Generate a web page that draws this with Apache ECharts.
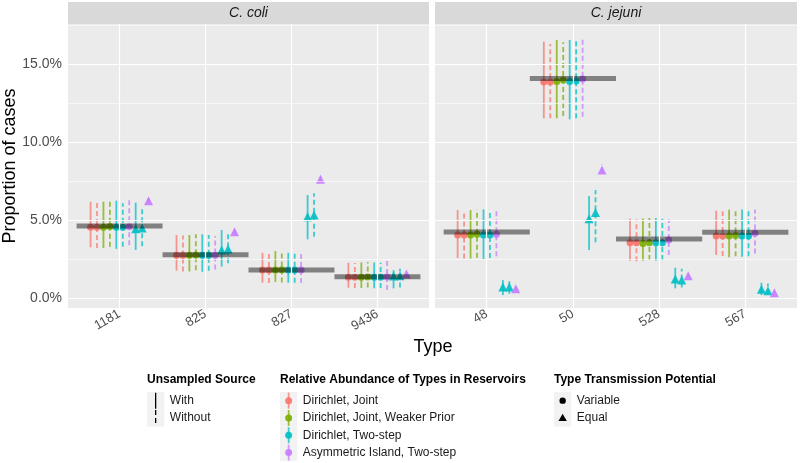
<!DOCTYPE html>
<html><head><meta charset="utf-8">
<script src="https://cdn.jsdelivr.net/npm/echarts@6/dist/echarts.min.js"></script>
<style>html,body{margin:0;padding:0;background:#fff}#c{width:800px;height:463px}</style>
</head><body><div id="c"></div>
<script>
// ---------- DATA (percent) ----------
const cColiTypes = ['1181', '825', '827', '9436'];
const cJejuniTypes = ['48', '50', '528', '567'];
const facetNames = ['C. coli', 'C. jejuni'];
const yTicks = [0, 5, 10, 15];
const yMinorTicks = [2.5, 7.5, 12.5, 17.5];
// order of values: 1181, 825, 827, 9436, 48, 50, 528, 567
const observed = [4.63, 2.80, 1.81, 1.39, 4.25, 14.08, 3.80, 4.23];

// Variable transmission potential
const jointWithEst = [4.55, 2.76, 1.81, 1.35, 4.06, 13.87, 3.56, 3.99];
const jointWithLo  = [3.27, 1.77, 1.00, 0.68, 2.58, 11.54, 2.41, 2.78];
const jointWithHi  = [6.19, 4.06, 2.92, 2.28, 5.66, 16.45, 5.10, 5.62];
const jointWithoutEst = [4.55, 2.76, 1.81, 1.35, 4.06, 13.87, 3.56, 3.99];
const jointWithoutLo  = [3.22, 1.72, 0.98, 0.66, 2.55, 11.54, 2.38, 2.72];
const jointWithoutHi  = [6.19, 4.02, 2.88, 2.26, 5.62, 16.30, 5.06, 5.58];
const weakWithEst = [4.55, 2.76, 1.81, 1.35, 4.06, 13.89, 3.52, 3.99];
const weakWithLo  = [3.22, 1.72, 1.04, 0.66, 2.55, 11.54, 2.41, 2.63];
const weakWithHi  = [6.19, 4.06, 3.03, 2.30, 5.66, 16.56, 5.12, 5.68];
const weakWithoutEst = [4.60, 2.78, 1.83, 1.37, 4.10, 13.99, 3.56, 4.02];
const weakWithoutLo  = [3.30, 1.80, 1.02, 0.70, 2.60, 11.69, 2.45, 2.70];
const weakWithoutHi  = [6.30, 4.10, 3.00, 2.32, 5.70, 16.41, 5.14, 5.72];
const twoStepWithEst = [4.55, 2.76, 1.81, 1.35, 4.06, 13.89, 3.56, 3.99];
const twoStepWithLo  = [3.17, 1.70, 1.00, 0.64, 2.52, 11.47, 2.41, 2.66];
const twoStepWithHi  = [6.26, 4.10, 2.92, 2.30, 5.70, 16.56, 5.14, 5.70];
const twoStepWithoutEst = [4.55, 2.76, 1.81, 1.35, 4.06, 13.93, 3.56, 3.99];
const twoStepWithoutLo  = [3.30, 1.77, 1.00, 0.66, 2.58, 11.54, 2.45, 2.70];
const twoStepWithoutHi  = [6.10, 4.06, 2.90, 2.28, 5.66, 16.56, 5.10, 5.66];
const islandWithoutEst = [4.59, 2.76, 1.81, 1.37, 4.10, 14.06, 3.74, 4.17];
const islandWithoutLo  = [3.40, 1.85, 0.98, 0.53, 2.70, 11.64, 2.78, 2.88];
const islandWithoutHi  = [6.30, 4.00, 2.92, 2.41, 5.75, 16.77, 5.05, 5.70];
// Equal transmission potential
const eqTwoStepWithEst = [4.46, 3.10, 5.23, 1.43, 0.72, 5.10, 1.24, 0.58];
const eqTwoStepWithLo  = [3.10, 2.03, 3.78, 0.64, 0.21, 3.10, 0.64, 0.21];
const eqTwoStepWithHi  = [6.13, 4.38, 6.62, 1.81, 1.17, 6.56, 1.96, 1.00];
const eqTwoStepWithoutEst = [4.50, 3.16, 5.34, 1.45, 0.72, 5.50, 1.17, 0.49];
const eqTwoStepWithoutLo  = [3.33, 2.24, 3.95, 0.70, 0.30, 3.60, 0.70, 0.25];
const eqTwoStepWithoutHi  = [5.90, 4.17, 6.73, 1.90, 1.10, 6.94, 1.90, 0.95];
const eqIslandWithoutEst = [6.26, 4.27, 7.63, 1.56, 0.62, 8.22, 1.45, 0.36];
const eqIslandWithoutLo  = [6.10, 4.15, 7.50, 1.50, 0.55, 8.05, 1.38, 0.30];
const eqIslandWithoutHi  = [6.40, 4.40, 7.80, 1.62, 0.70, 8.60, 1.52, 0.42];

const sourceLabels = ['With', 'Without'];
const modelLabels = ['Dirichlet, Joint', 'Dirichlet, Joint, Weaker Prior', 'Dirichlet, Two-step', 'Asymmetric Island, Two-step'];
const potentialLabels = ['Variable', 'Equal'];
const modelColors = ['#F8766D', '#7CAE00', '#00BFC4', '#C77CFF'];

// ---------- build ----------
const slots = [
  {m:0, dash:false, tri:false, est:jointWithEst, lo:jointWithLo, hi:jointWithHi},
  {m:0, dash:true,  tri:false, est:jointWithoutEst, lo:jointWithoutLo, hi:jointWithoutHi},
  {m:1, dash:false, tri:false, est:weakWithEst, lo:weakWithLo, hi:weakWithHi},
  {m:1, dash:true,  tri:false, est:weakWithoutEst, lo:weakWithoutLo, hi:weakWithoutHi},
  {m:2, dash:false, tri:false, est:twoStepWithEst, lo:twoStepWithLo, hi:twoStepWithHi},
  {m:2, dash:true,  tri:false, est:twoStepWithoutEst, lo:twoStepWithoutLo, hi:twoStepWithoutHi},
  {m:3, dash:true,  tri:false, est:islandWithoutEst, lo:islandWithoutLo, hi:islandWithoutHi},
  {m:2, dash:false, tri:true,  est:eqTwoStepWithEst, lo:eqTwoStepWithLo, hi:eqTwoStepWithHi},
  {m:2, dash:true,  tri:true,  est:eqTwoStepWithoutEst, lo:eqTwoStepWithoutLo, hi:eqTwoStepWithoutHi},
  {m:3, dash:true,  tri:true,  est:eqIslandWithoutEst, lo:eqIslandWithoutLo, hi:eqIslandWithoutHi}
];
const dodge = 0.075;
const typeSets = [cColiTypes, cJejuniTypes];
const YMIN = -0.62, YMAX = 17.58;
const panels = [{left:68, width:361}, {left:435, width:362}];
const TOP = 24, HEIGHT = 284;
const DASH = [5, 3];

const grid = panels.map(p => ({left:p.left, top:TOP, width:p.width, height:HEIGHT, show:true, backgroundColor:'#EBEBEB', borderWidth:0, containLabel:false}));
const xAxis = panels.map((p, g) => ({
  gridIndex:g, type:'value', min:-0.6, max:3.6,
  axisLine:{show:false}, splitLine:{show:false},
  axisTick:{show:true, customValues:[0,1,2,3], length:3, lineStyle:{color:'#333333', width:1}},
  axisLabel:{customValues:[0,1,2,3], formatter:v => typeSets[g][Math.round(v)], rotate:30, color:'#4D4D4D', fontSize:13, margin:5, fontFamily:'Liberation Sans, Arial, sans-serif'}
}));
const yAxis = panels.map((p, g) => ({
  gridIndex:g, type:'value', min:YMIN, max:YMAX,
  axisLine:{show:false}, splitLine:{show:false},
  axisTick:{show:g === 0, customValues:yTicks, length:3, lineStyle:{color:'#333333', width:1}},
  axisLabel:{show:g === 0, customValues:yTicks, formatter:v => v.toFixed(1) + '%', color:'#4D4D4D', fontSize:14, margin:6, fontFamily:'Liberation Sans, Arial, sans-serif'}
}));

const series = [];
for (let g = 0; g < 2; g++) {
  // grid lines
  series.push({
    type:'scatter', xAxisIndex:g, yAxisIndex:g, data:[], z:1, silent:true,
    markLine:{silent:true, symbol:['none','none'], label:{show:false}, animation:false,
      lineStyle:{color:'#FFFFFF', width:1.2, type:'solid'},
      emphasis:{disabled:true},
      data: yMinorTicks.map(v => ({yAxis:v, lineStyle:{width:0.6, color:'#FFFFFF', type:'solid'}}))
        .concat(yTicks.map(v => ({yAxis:v})))
        .concat([0,1,2,3].map(v => ({xAxis:v})))}
  });
  // error bars & points
  slots.forEach((s, k) => {
    const off = (k - 4.5) * dodge;
    const data = [0,1,2,3].map(i => [i + off, s.lo[g*4+i], s.hi[g*4+i], s.est[g*4+i]]);
    const col = modelColors[s.m];
    series.push({
      type:'custom', xAxisIndex:g, yAxisIndex:g, z:2, silent:true,
      data: data,
      encode:{x:0, y:[1,2]},
      renderItem:(params, api) => {
        const a = api.coord([api.value(0), api.value(1)]);
        const b = api.coord([api.value(0), api.value(2)]);
        return {type:'line', shape:{x1:a[0], y1:a[1], x2:b[0], y2:b[1]},
          style:{stroke:col, lineWidth:1.8, lineDash:s.dash ? DASH : null, opacity:0.75}};
      }
    });
    series.push({
      type:'scatter', xAxisIndex:g, yAxisIndex:g, z:3, silent:true,
      symbol: s.tri ? 'triangle' : 'circle', symbolSize: s.tri ? 9 : 7,
      itemStyle:{color:col, opacity:0.9},
      data: data.map(d => [d[0], d[3]])
    });
  });
  // observed bars
  series.push({
    type:'custom', xAxisIndex:g, yAxisIndex:g, z:4, silent:true,
    data: [0,1,2,3].map(i => [i, observed[g*4+i]]),
    encode:{x:0, y:1},
    renderItem:(params, api) => {
      const a = api.coord([api.value(0) - 0.5, api.value(1)]);
      const b = api.coord([api.value(0) + 0.5, api.value(1)]);
      return {type:'line', shape:{x1:a[0], y1:a[1], x2:b[0], y2:b[1]},
        style:{stroke:'#000000', lineWidth:5, opacity:0.45}};
    }
  });
}

// ---------- graphic: strips, titles, legends ----------
const FF = 'Liberation Sans, Arial, sans-serif';
const graphic = [];
panels.forEach((p, g) => {
  graphic.push({type:'rect', shape:{x:p.left, y:2, width:p.width, height:22}, style:{fill:'#D9D9D9'}, silent:true});
  graphic.push({type:'text', x:p.left + p.width/2, y:13, style:{text:facetNames[g], fontSize:14, fontStyle:'italic', fontFamily:FF, fill:'#1A1A1A', textAlign:'center', textVerticalAlign:'middle'}, silent:true});
});
graphic.push({type:'text', x:10, y:166, rotation:Math.PI/2, style:{text:'Proportion of cases', fontSize:18, fontFamily:FF, fill:'#000', textAlign:'center', textVerticalAlign:'middle'}, silent:true});
graphic.push({type:'text', x:433, y:347, style:{text:'Type', fontSize:18, fontFamily:FF, fill:'#000', textAlign:'center', textVerticalAlign:'middle'}, silent:true});

const KEY = 17.3, ROW0 = 392, TITLE_Y = 380;
function legendTitle(x, t) {
  graphic.push({type:'text', x:x, y:TITLE_Y, style:{text:t, fontSize:12, fontWeight:'bold', fontFamily:FF, fill:'#000', textVerticalAlign:'middle'}, silent:true});
}
function keyBox(x, r) {
  graphic.push({type:'rect', shape:{x:x, y:ROW0 + r*KEY, width:KEY, height:KEY}, style:{fill:'#F2F2F2'}, silent:true});
  return [x + KEY/2, ROW0 + r*KEY + KEY/2];
}
function keyText(x, r, t) {
  graphic.push({type:'text', x:x + KEY + 5.5, y:ROW0 + r*KEY + KEY/2, style:{text:t, fontSize:12, fontFamily:FF, fill:'#1A1A1A', textVerticalAlign:'middle'}, silent:true});
}
// Unsampled Source
const L1 = 147;
legendTitle(L1, 'Unsampled Source');
sourceLabels.forEach((t, r) => {
  const c = keyBox(L1, r);
  graphic.push({type:'line', shape:{x1:c[0], y1:c[1]-8, x2:c[0], y2:c[1]+8}, style:{stroke:'#000', lineWidth:1.3, lineDash: r ? DASH : null}, silent:true});
  keyText(L1, r, t);
});
// Relative abundance
const L2 = 280;
legendTitle(L2, 'Relative Abundance of Types in Reservoirs');
modelLabels.forEach((t, r) => {
  const c = keyBox(L2, r);
  graphic.push({type:'line', shape:{x1:c[0], y1:c[1]-8, x2:c[0], y2:c[1]+8}, style:{stroke:modelColors[r], lineWidth:1.8, opacity:0.75}, silent:true});
  graphic.push({type:'circle', shape:{cx:c[0], cy:c[1], r:3.5}, style:{fill:modelColors[r], opacity:0.9}, silent:true});
  keyText(L2, r, t);
});
// Type transmission potential
const L3 = 554;
legendTitle(L3, 'Type Transmission Potential');
potentialLabels.forEach((t, r) => {
  const c = keyBox(L3, r);
  if (r === 0) graphic.push({type:'circle', shape:{cx:c[0], cy:c[1], r:3.2}, style:{fill:'#000'}, silent:true});
  else graphic.push({type:'polygon', shape:{points:[[c[0], c[1]-4.2], [c[0]+4.2, c[1]+3], [c[0]-4.2, c[1]+3]]}, style:{fill:'#000'}, silent:true});
  keyText(L3, r, t);
});

const chart = echarts.init(document.getElementById('c'), null, {renderer:'canvas'});
chart.setOption({animation:false, backgroundColor:'#FFFFFF', grid, xAxis, yAxis, series, graphic});
</script>
</body></html>
